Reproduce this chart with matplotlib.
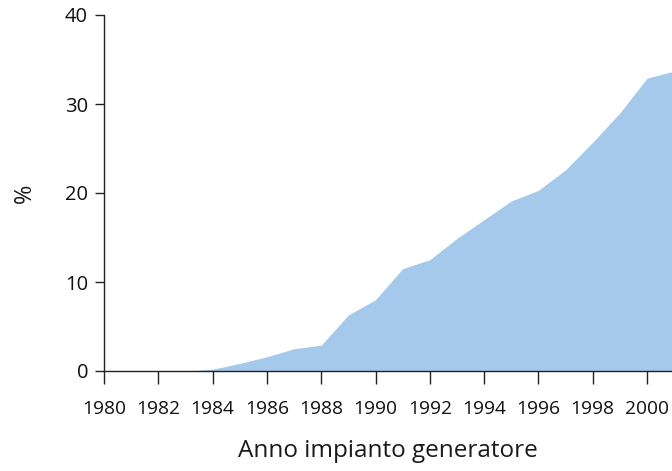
import matplotlib
matplotlib.use("Agg")
import matplotlib.pyplot as plt

# share of generators per installation year (%)
years = [1980, 1981, 1982, 1983, 1984, 1985, 1986, 1987, 1988, 1989, 1990,
         1991, 1992, 1993, 1994, 1995, 1996, 1997, 1998, 1999, 2000, 2001]
share = [0.0, 0.0, 0.0, 0.0, 0.2, 0.85, 1.6, 2.5, 2.9, 6.3, 8.0,
         11.5, 12.5, 14.9, 17.0, 19.1, 20.3, 22.6, 25.7, 29.0, 32.9, 33.7]
xticks = list(range(1980, 2001, 2))
yticks = [0, 10, 20, 30, 40]

plt.rcParams['font.family'] = ['Open Sans', 'DejaVu Sans']

fig = plt.figure(figsize=(6.72, 4.71), dpi=100)
ax = fig.add_axes([104 / 672, 100 / 471, (672 - 104) / 672, 356 / 471])

ax.fill_between(years, share, 0, color='#a4c9ea', linewidth=0)

ax.set_xlim(1980, 2000.92)
ax.set_ylim(0, 40)
ax.set_xticks(xticks)
ax.set_yticks(yticks)

for s in ['top', 'right']:
    ax.spines[s].set_visible(False)
for s in ['left', 'bottom']:
    ax.spines[s].set_color('#222222')
    ax.spines[s].set_linewidth(1.0)

ax.tick_params(axis='x', length=9, width=1.0, color='#222222', pad=12,
               labelsize=13.8, labelcolor='#111111')
ax.tick_params(axis='y', length=6.5, width=1.0, color='#222222', pad=5,
               labelsize=14.5, labelcolor='#111111')

ax.set_xlabel('Anno impianto generatore', fontsize=17.5, labelpad=15,
              color='#1a1a1a')
ax.set_ylabel('%', fontsize=17, color='#1a1a1a')
ax.yaxis.set_label_coords(-0.118, 0.5)

fig.savefig('out.png', dpi=100)
